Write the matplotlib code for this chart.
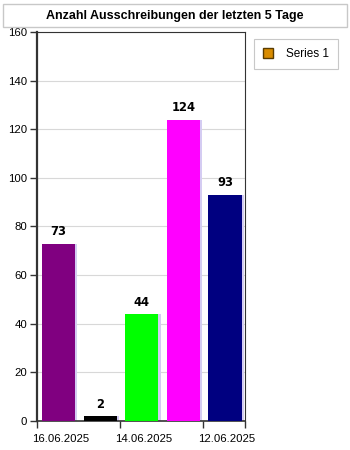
import matplotlib.pyplot as plt
from matplotlib.patches import Patch, Rectangle
from matplotlib.transforms import ScaledTranslation

plt.rcParams['font.family'] = ['Liberation Sans', 'DejaVu Sans']

# Daten
tage = ['16.06.2025', '15.06.2025', '14.06.2025', '13.06.2025', '12.06.2025']
anzahl = [73, 2, 44, 124, 93]
farben = ['#800080', '#000000', '#00ff00', '#ff00ff', '#000080']
tick_labels = ['16.06.2025', '14.06.2025', '12.06.2025']

fig = plt.figure(figsize=(3.5, 4.5), dpi=100)

# Titel-Box
fig.patches.append(Rectangle((3 / 350, 1 - 27 / 450), 344 / 350, 23 / 450,
                             transform=fig.transFigure, facecolor='white',
                             edgecolor='#c8c8c8', linewidth=1))
fig.text(175 / 350, 1 - 15.5 / 450, 'Anzahl Ausschreibungen der letzten 5 Tage',
         ha='center', va='center', fontsize=9, fontweight='bold')

ax = fig.add_axes([37 / 350, 1 - 421 / 450, 208 / 350, 389 / 450])

pos = [i + 0.12 for i in range(len(anzahl))]
# Schatten
ax.bar([p + 0.05 for p in pos], anzahl, width=0.8, align='edge',
       color='#d4ccf2', zorder=2)
ax.bar(pos, anzahl, width=0.8, align='edge', color=farben, zorder=3)

for p, v in zip(pos, anzahl):
    ax.annotate(str(v), (p + 0.4, v),
                xytext=(0, 12), textcoords='offset pixels',
                ha='center', va='center', fontsize=8.3, fontweight='semibold',
                family='DejaVu Sans')

ax.set_xlim(0, 5)
ax.set_ylim(0, 160)
ax.set_yticks(range(0, 161, 20))
ax.set_xticks([0, 2, 4, 5])
ax.set_xticklabels(tick_labels + [''])
ax.grid(axis='y', color='#d8d8d8', linewidth=0.8, zorder=0)
ax.set_axisbelow(True)

ax.tick_params(axis='both', direction='out', length=5, width=1,
               color='#333333', labelsize=8.2, pad=2)
ax.tick_params(axis='x', pad=4)
verschiebung = ScaledTranslation(-5 / 100, 0, fig.dpi_scale_trans)
for lab in ax.get_xticklabels():
    lab.set_horizontalalignment('left')
    lab.set_transform(lab.get_transform() + verschiebung)

ax.spines['left'].set_linewidth(1.6)
ax.spines['bottom'].set_linewidth(1.2)
for s in ['top', 'right']:
    ax.spines[s].set_linewidth(0.8)
for s in ax.spines.values():
    s.set_color('#333333')

# Legende
handle = Patch(facecolor='#d98c00', edgecolor='#5a3c00', label='Series 1')
leg = fig.legend(handles=[handle], loc='upper left',
                 bbox_to_anchor=(254 / 350, 1 - 39 / 450), fontsize=8.5,
                 fancybox=False, framealpha=1, handlelength=0.9, handleheight=0.9,
                 borderpad=0.75, handletextpad=1.1, borderaxespad=0)
leg.get_frame().set_edgecolor('#c8c8c8')
leg.get_frame().set_linewidth(0.8)

fig.savefig('out.png', dpi=100)
